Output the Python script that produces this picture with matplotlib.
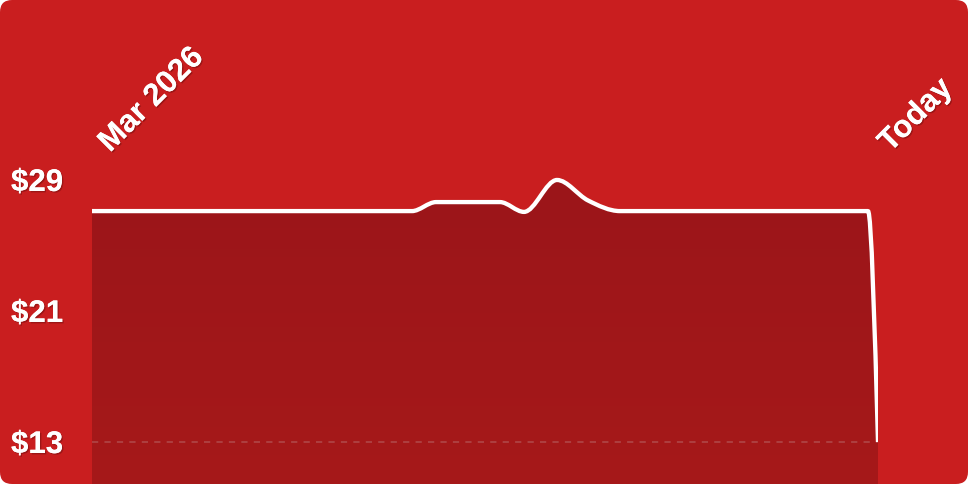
import numpy as np
import matplotlib
matplotlib.use("Agg")
import matplotlib.pyplot as plt
from matplotlib.path import Path
from matplotlib.patches import PathPatch, FancyBboxPatch
from matplotlib.transforms import blended_transform_factory, offset_copy
from matplotlib.colors import LinearSegmentedColormap
import matplotlib.patheffects as pe

# ---- data ----
t_days = [0, 320, 344, 408, 432, 465, 496, 528, 776, 786]
price = [27.1, 27.1, 27.65, 27.65, 27.05, 29.0, 27.75, 27.1, 27.1, 13.0]
ytick_vals = [29, 21, 13]
ytick_labels = ["$29", "$21", "$13"]
start_label = "Mar 2026"
end_label = "Today"

BG = "#c91e1f"
W, H = 968, 484
fig = plt.figure(figsize=(W / 100, H / 100), dpi=100)
fig.patch.set_facecolor("white")
fig.patches.append(FancyBboxPatch((0, 0), 1, 1, boxstyle="round,pad=0,rounding_size=0.0125",
                                  transform=fig.transFigure, facecolor=BG, edgecolor="none",
                                  mutation_aspect=2.0, zorder=-5))

ax = fig.add_axes([92 / W, 0, (878 - 92) / W, 1])
ax.set_facecolor("none")
ax.set_xlim(t_days[0], t_days[-1])
ax.set_ylim(10.435, 39.99)
ax.axis("off")

# monotone-x cubic (d3 style)
x = np.array(t_days, float)
y = np.array(price, float)
n = len(x)
h = np.diff(x)
s = np.diff(y) / h
tang = np.zeros(n)
for i in range(1, n - 1):
    h0, h1, s0, s1 = h[i - 1], h[i], s[i - 1], s[i]
    p = (s0 * h1 + s1 * h0) / (h0 + h1)
    tang[i] = (np.sign(s0) + np.sign(s1)) * min(abs(s0), abs(s1), 0.5 * abs(p))
tang[0] = (3 * s[0] - tang[1]) / 2
tang[-1] = (3 * s[-1] - tang[-2]) / 2

verts = [(x[0], y[0])]
codes = [Path.MOVETO]
for i in range(n - 1):
    dx = (x[i + 1] - x[i]) / 3
    verts += [(x[i] + dx, y[i] + dx * tang[i]), (x[i + 1] - dx, y[i + 1] - dx * tang[i + 1]), (x[i + 1], y[i + 1])]
    codes += [Path.CURVE4] * 3
line_path = Path(verts, codes)

ybot = ax.get_ylim()[0]
fverts = verts + [(x[-1], ybot), (x[0], ybot), (x[0], y[0])]
fcodes = codes + [Path.LINETO, Path.LINETO, Path.CLOSEPOLY]
fill_patch = PathPatch(Path(fverts, fcodes), facecolor="none", edgecolor="none")
ax.add_patch(fill_patch)
grad = np.linspace(0, 1, 256).reshape(-1, 1)
cmap = LinearSegmentedColormap.from_list("g", ["#9b1519", "#a6191a"])
im = ax.imshow(grad, cmap=cmap, aspect="auto", extent=[x[0], x[-1], ybot, 29.5],
               origin="upper", zorder=1)
im.set_clip_path(fill_patch)

# dashed baseline at lowest tick
ax.plot([x[0], x[-1]], [13, 13], color="#b04a4a", lw=1.4, dashes=(3.2, 3.2), alpha=0.8, zorder=2)

ax.add_patch(PathPatch(line_path, facecolor="none", edgecolor="white", lw=3.1,
                       capstyle="butt", joinstyle="round", zorder=3))

shadow = [pe.withSimplePatchShadow(offset=(1.0, -1.0), shadow_rgbFace="#5a0a0a", alpha=0.4), pe.Normal()]
font = ["Liberation Sans", "DejaVu Sans"]
FS = 22.5
tr = offset_copy(blended_transform_factory(fig.transFigure, ax.transData), fig=fig, x=0, y=-3, units="dots")
for v, lab in zip(ytick_vals, ytick_labels):
    ax.text(11 / W, v, lab, transform=tr, ha="left", va="center", color="white",
            fontsize=FS, fontweight="bold", family=font, path_effects=shadow)

trx = blended_transform_factory(ax.transData, fig.transFigure)
ax.text(x[0] + 18, 1 - 153 / H, start_label, transform=trx, rotation=45, rotation_mode="anchor",
        ha="left", va="baseline", color="white", fontsize=FS, fontweight="bold", family=font,
        path_effects=shadow)
ax.text(x[-1] + 12, 1 - 153 / H, end_label, transform=trx, rotation=45, rotation_mode="anchor",
        ha="left", va="baseline", color="white", fontsize=FS, fontweight="bold", family=font,
        path_effects=shadow)

fig.savefig("out.png", dpi=100, facecolor=fig.get_facecolor())
